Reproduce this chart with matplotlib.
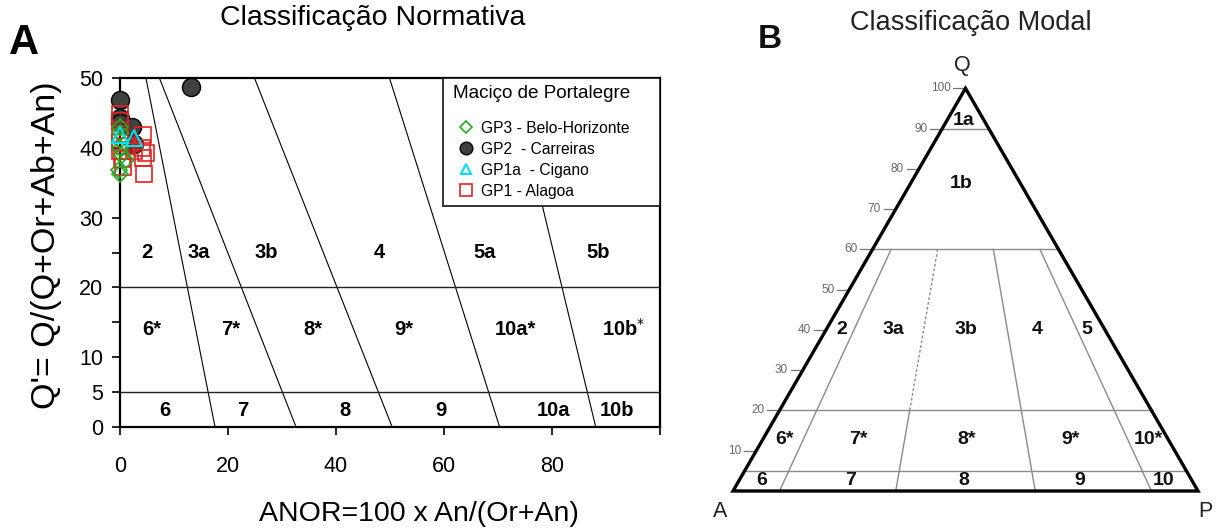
import numpy as np
import matplotlib
matplotlib.use("Agg")
import matplotlib.pyplot as plt
from matplotlib.patches import Rectangle, Polygon

plt.rcParams['font.family'] = ['Liberation Sans', 'DejaVu Sans']

# ---------------- data: normative classification (Q' vs ANOR) ----------------
gp3_anor = [0.0, 0.0, 0.0, 0.0, 0.3, 1.2, -0.2, 0.0]
gp3_q = [43.0, 42.1, 41.1, 39.9, 39.0, 38.3, 36.8, 36.3]

gp2_anor = [0.0, 13.1, 0.0, 0.0, 2.3, 2.5]
gp2_q = [46.8, 48.7, 44.2, 43.6, 43.0, 40.6]

gp1a_anor = [0.0, 2.6]
gp1a_q = [41.8, 41.4]

gp1_anor = [0.0, 0.0, 0.0, 0.0, 0.0, 0.3, 0.5, 4.3, 4.0, 4.8, 4.3, 4.5, 2.5, 1.0]
gp1_q = [44.8, 43.9, 42.0, 40.8, 39.5, 38.4, 37.2, 41.8, 39.9, 39.2, 38.5, 36.3, 39.6, 40.2]

# boundary lines of the Q'-ANOR diagram: ANOR at Q'=50 and at Q'=0
bound_top = [4.8, 7.3, 24.9, 49.9, 72.5]
bound_bottom = [17.6, 32.6, 50.4, 70.3, 88.1]
bound_q = [20, 5]

legend_title = "Maciço de Portalegre"
labels = ["GP3 - Belo-Horizonte", "GP2  - Carreiras", "GP1a  - Cigano", "GP1 - Alagoa"]

# ---------------- data: modal classification (QAP) ----------------
q_levels = [0.90, 0.60, 0.20, 0.05]
p_ratios = [0.10, 0.35, 0.65, 0.90]
edge_ticks = [10, 20, 30, 40, 50, 60, 70, 80, 90, 100]

fig = plt.figure(figsize=(12.16, 5.29), dpi=100)
W, H = 1216, 529

# ======================= panel A =======================
ax = fig.add_axes([120 / W, (H - 427) / H, 540 / W, 349 / H])
ax.set_xlim(0, 100)
ax.set_ylim(0, 50)

for t, b in zip(bound_top, bound_bottom):
    ax.plot([t, b], [50, 0], color='black', lw=0.8, zorder=1)
for yq in bound_q:
    ax.axhline(yq, color='#222222', lw=1.0, zorder=1)

region_labels = [
    ("2", 5, 25), ("3a", 14.6, 25), ("3b", 27, 25), ("4", 48, 25), ("5a", 67.6, 25), ("5b", 88.5, 25),
    ("6*", 5.9, 13.9), ("7*", 20.4, 13.9), ("8*", 35.7, 13.9), ("9*", 52.6, 13.9), ("10a*", 73.3, 13.9),
    ("10b$^{*}$", 93.3, 14.1),
    ("6", 8.3, 2.3), ("7", 22.8, 2.3), ("8", 41.7, 2.3), ("9", 59.4, 2.3), ("10a", 80.2, 2.3), ("10b", 92, 2.3),
]
for txt, x, y in region_labels:
    ax.text(x, y, txt, ha='center', va='center', fontsize=14.5, fontweight='bold', zorder=2)

h_gp2, = ax.plot(gp2_anor, gp2_q, 'o', ms=13, mfc='#404040', mec='black', mew=1.0, ls='none',
                 zorder=3, clip_on=False)
h_gp1, = ax.plot(gp1_anor, gp1_q, 's', ms=11.5, mfc='none', mec='#e32222', mew=1.2, ls='none',
                 zorder=4, clip_on=False)
h_gp3, = ax.plot(gp3_anor, gp3_q, 'D', ms=8.5, mfc='none', mec='#22aa22', mew=1.2, ls='none',
                 zorder=5, clip_on=False)
h_gp1a, = ax.plot(gp1a_anor, gp1a_q, '^', ms=11, mfc='none', mec='#00e0f0', mew=1.5, ls='none',
                  zorder=6, clip_on=False)

ax.set_xticks([0, 20, 40, 60, 80, 100])
ax.set_xticklabels(['0', '20', '40', '60', '80', ''])
ax.set_yticks([0, 5, 10, 15, 20, 25, 30, 40, 50])
ax.set_yticklabels(['0', '5', '10', '', '20', '', '30', '40', '50'])
ax.tick_params(axis='x', direction='out', length=6, width=1.2, pad=15, labelsize=15.5)
ax.tick_params(axis='y', direction='out', length=6, width=1.2, pad=6, labelsize=15.5)
for sp in ax.spines.values():
    sp.set_linewidth(1.6)

ax.set_xlabel("ANOR=100 x An/(Or+An)", fontsize=20.5)
ax.xaxis.set_label_coords(0.554, -0.212)
ax.set_ylabel("Q'= Q/(Q+Or+Ab+An)", fontsize=24.5)
ax.yaxis.set_label_coords(-0.107, 0.522)

# legend box
ax.add_patch(Rectangle((0.598, 0.633), 0.402, 0.367, transform=ax.transAxes,
                       facecolor='white', edgecolor='#222222', lw=1.3, zorder=7))
ax.text(0.617, 0.957, legend_title, transform=ax.transAxes, ha='left', va='center',
        fontsize=13.6, zorder=8)
leg = ax.legend([h_gp3, h_gp2, h_gp1a, h_gp1], labels, loc='upper left',
                bbox_to_anchor=(0.627, 0.878), frameon=False, fontsize=11.25,
                handlelength=1.0, handletextpad=0.45, labelspacing=0.39,
                borderpad=0, borderaxespad=0, markerscale=0.7)
leg.set_zorder(9)

fig.text(373 / W, 1 - 18 / H, "Classificação Normativa", ha='center', va='center', fontsize=20.5)
fig.text(24 / W, 1 - 43 / H, "A", ha='center', va='center', fontsize=30, fontweight='bold')

# ======================= panel B =======================
bx = fig.add_axes([700 / W, 0, 516 / W, 489 / H])
bx.set_xlim(-33 / 465, 483 / 465)
bx.set_ylim(-38 / 465, 451 / 465)
bx.axis('off')

h = np.sqrt(3) / 2


def tern(q, r):
    """Point with quartz fraction q and P/(A+P) ratio r."""
    return q * 0.5 + (1 - q) * r, q * h


grey = '#8a8a8a'
for q in q_levels:
    (x0, y0), (x1, y1) = tern(q, 0), tern(q, 1)
    bx.plot([x0, x1], [y0, y1], color=grey, lw=1.0, zorder=1)
for r in p_ratios:
    if r == 0.35:
        (xa, ya), (xb, yb), (xc, yc) = tern(0.6, r), tern(0.2, r), tern(0.0, r)
        bx.plot([xa, xb], [ya, yb], color=grey, lw=1.0, ls=(0, (2, 1.5)), zorder=1)
        bx.plot([xb, xc], [yb, yc], color=grey, lw=1.0, zorder=1)
    else:
        (xa, ya), (xc, yc) = tern(0.6, r), tern(0.0, r)
        bx.plot([xa, xc], [ya, yc], color=grey, lw=1.0, zorder=1)

bx.add_patch(Polygon([tern(0, 0), tern(0, 1), tern(1, 0)], closed=True, fill=False,
                     edgecolor='black', lw=2.4, joinstyle='miter', zorder=3))

for t in edge_ticks:
    x, y = tern(t / 100, 0)
    bx.plot([x - 0.026, x], [y, y], color='#777777', lw=0.9, zorder=2)
    bx.text(x - 0.032, y, str(t), ha='right', va='center', fontsize=8.5, color='#666666')

modal_labels = [
    ("1a", 0.495, 0.796), ("1b", 0.490, 0.662),
    ("2", 0.234, 0.348), ("3a", 0.346, 0.348), ("3b", 0.500, 0.348), ("4", 0.655, 0.348),
    ("5", 0.761, 0.348),
    ("6*", 0.110, 0.110), ("7*", 0.269, 0.110), ("8*", 0.503, 0.110), ("9*", 0.727, 0.110),
    ("10*", 0.893, 0.110),
    ("6", 0.062, 0.022), ("7", 0.252, 0.022), ("8", 0.497, 0.022), ("9", 0.746, 0.022),
    ("10", 0.925, 0.022),
]
for txt, x, y in modal_labels:
    bx.text(x, y, txt, ha='center', va='center', fontsize=14, fontweight='bold', color='#111111',
            zorder=4)

bx.text(0.493, 0.914, "Q", ha='center', va='center', fontsize=15.5, color='#222222')
bx.text(-0.028, -0.045, "A", ha='center', va='center', fontsize=15.5, color='#222222')
bx.text(1.015, -0.045, "P", ha='center', va='center', fontsize=15.5, color='#222222')

fig.text(971 / W, 1 - 23 / H, "Classificação Modal", ha='center', va='center', fontsize=19.5,
         color='#222222')
fig.text(770 / W, 1 - 39 / H, "B", ha='center', va='center', fontsize=24, fontweight='bold',
         color='#111111')

fig.savefig("out.png", dpi=100)
